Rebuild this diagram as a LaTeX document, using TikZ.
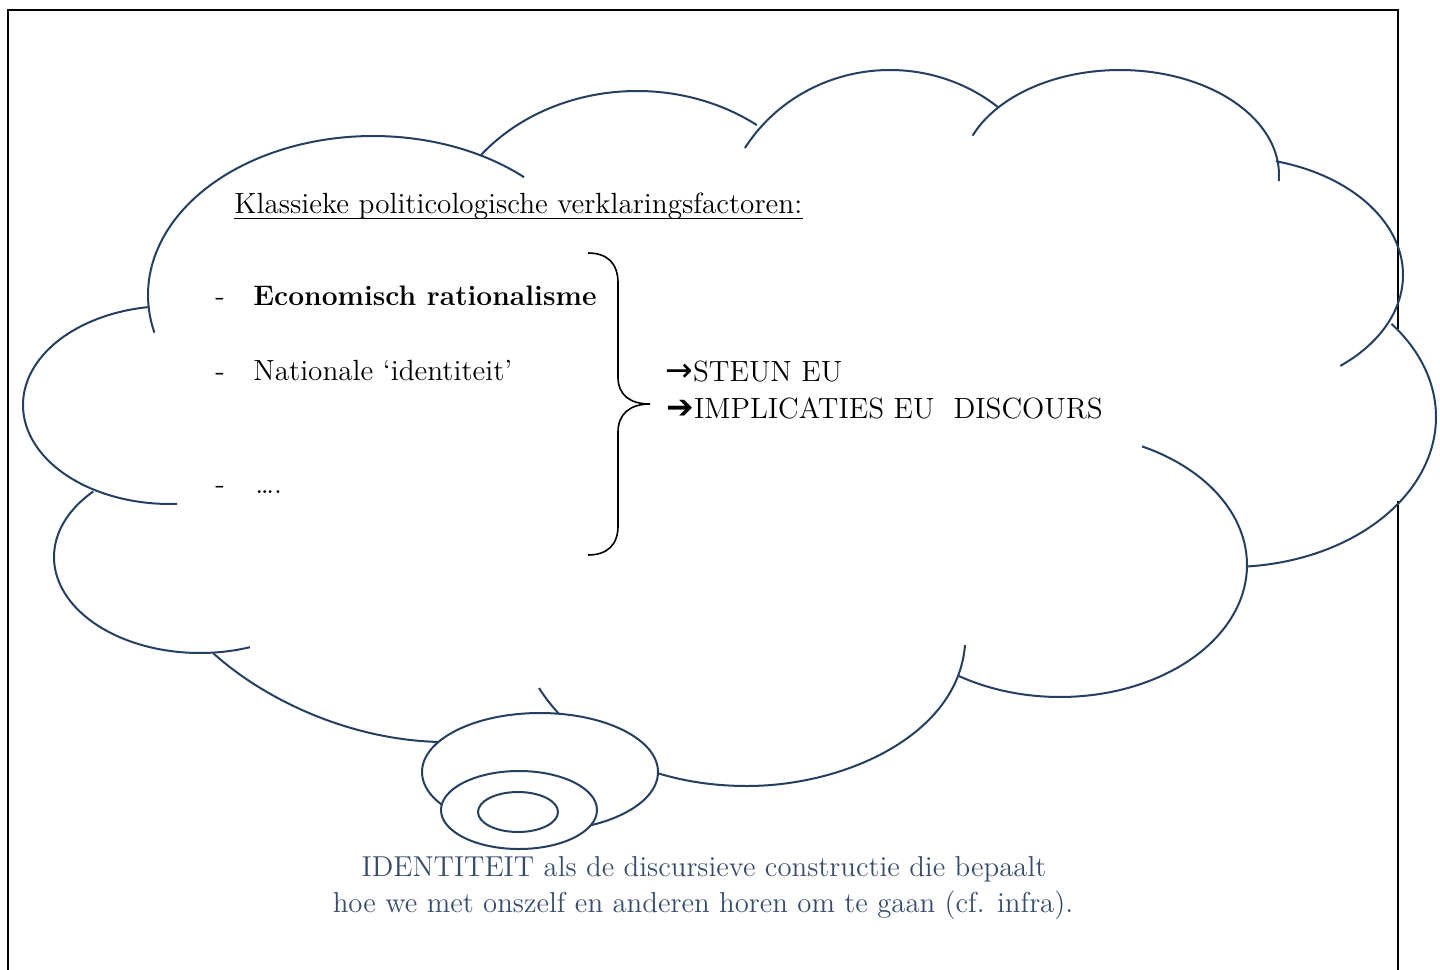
\documentclass[tikz,border=0pt]{standalone}
\usepackage{fontspec}
\usetikzlibrary{shapes.geometric}
\newfontfamily\arrowfont{DejaVu Sans}
\definecolor{cloudc}{HTML}{243F60}
\definecolor{textblue}{HTML}{374C6C}
\newcommand\cloudarc[6]{\draw[lobe] plot[domain=#5:#6, samples=90, variable=\t] ({#1+#3*cos(\t)},{#2+#4*sin(\t)});}
\begin{document}
\begin{tikzpicture}[x=0.5pt,y=-0.5pt,
  lobe/.style={draw=cloudc, line width=1pt},
  bub/.style={draw=cloudc, line width=1pt, fill=white, ellipse, inner sep=0pt},
  txt/.style={inner sep=0pt, anchor=base west, font=\fontsize{14.6}{17}\selectfont},
  otxt/.style={inner sep=0pt, anchor=base west, font=\fontsize{14.6}{17}\selectfont},
  btxt/.style={inner sep=0pt, anchor=base, text=textblue, font=\fontsize{14.4}{17}\selectfont},
  frame/.style={line width=1.2pt, black}]
\useasboundingbox (0,0) rectangle (1440,969);
% outer frame
\draw[frame] (8,985) -- (8,10) -- (1398,10) -- (1398,329);
\draw[frame] (1398,501) -- (1398,985);
% cloud lobes
\cloudarc{373}{295}{225}{159}{166.3}{312.2}
\cloudarc{637}{262}{200}{171}{218.7}{306.8}
\cloudarc{890}{233}{170}{163}{211.4}{309.6}
\cloudarc{1120}{175}{159}{105}{202}{363.3}
\cloudarc{1230}{275}{173}{118}{285.4}{410.4}
\cloudarc{1230}{417}{206}{150}{-38.4}{85.3}
\cloudarc{1060}{565}{187}{132}{-64}{123}
\coordinate (l8a) at (965,645);
\coordinate (l8b) at (747,786);
\coordinate (l8c) at (539,688);
\draw[lobe] (l8a) .. controls (958,735) and (845,786) .. (l8b) .. controls (650,786) and (575,745) .. (l8c);
\coordinate (l9a) at (213,653);
\coordinate (l9b) at (440,742);
\coordinate (l9c) at (505,745);
\draw[lobe] (l9a) .. controls (265,700) and (350,740) .. (l9b) .. controls (470,743) .. (l9c);
\cloudarc{200}{557}{146}{96}{70}{223}
\cloudarc{170}{405}{147}{99}{87.2}{261.7}
% thought bubbles
\node[bub, minimum width=118pt, minimum height=59pt] (bubA) at (540,772) {};
\node[bub, minimum width=78pt, minimum height=39pt] (bubB) at (519,810) {};
\node[bub, minimum width=40pt, minimum height=20pt] (bubC) at (518,812) {};
% title
\node[txt] (title) at (234,213) {Klassieke politicologische verklaringsfactoren:};
\draw[line width=0.7pt] ([yshift=-2.6pt]title.base west) -- ([yshift=-2.6pt]title.base east);
% list
\node[txt] (d1) at (215,305) {-};
\node[txt, font=\fontsize{14.1}{17}\selectfont\bfseries] (f1) at (253,305) {Economisch rationalisme};
\node[txt] (d2) at (215,380) {-};
\node[txt] (f2) at (253,380) {Nationale ‘identiteit’};
\node[txt] (d3) at (215,493) {-};
\node[txt] (f3) at (255,493) {….};
% brace
\coordinate (brtop) at (588,253);
\coordinate (brbot) at (588,555);
\draw[line width=0.8pt] (brtop) .. controls (607,253) and (618,263) .. (618,283) -- (618,377) .. controls (618,395) and (630,404) .. (650,404) .. controls (630,404) and (618,414) .. (618,432) -- (618,526) .. controls (618,545) and (607,555) .. (brbot);
% outcomes
\node[otxt] (o1) at (665,381) {{\arrowfont\fontsize{16.5}{17}\selectfont →}STEUN EU};
\node[otxt] (o2) at (666,418) {{\arrowfont\fontsize{16.5}{17}\selectfont ➔}IMPLICATIES EU\ \ DISCOURS};
% bottom text
\node[btxt] (id1) at (704,876) {IDENTITEIT als de discursieve constructie die bepaalt};
\node[btxt] (id2) at (703,912) {hoe we met onszelf en anderen horen om te gaan (cf. infra).};
\end{tikzpicture}
\end{document}
